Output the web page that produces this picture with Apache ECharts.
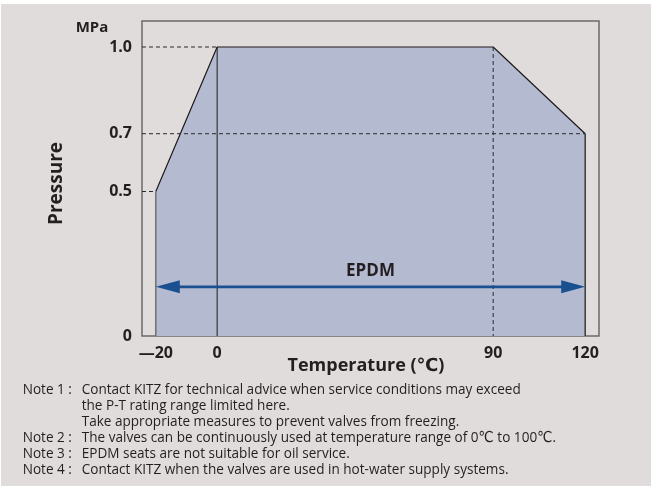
<!DOCTYPE html>
<html>
<head>
<meta charset="utf-8">
<script src="https://cdn.jsdelivr.net/npm/echarts@6/dist/echarts.min.js"></script>
<style>
  html, body { margin: 0; padding: 0; background: #ffffff; }
  #chart { width: 651px; height: 486px; }
</style>
</head>
<body>
<div id="chart"></div>
<script>
// P-T rating envelope for EPDM seats
const temperature = [-20, 0, 90, 120];      // ℃
const pressure = [0.5, 1.0, 1.0, 0.7];      // MPa
const xTickValues = [-20, 0, 90, 120];
const yTickValues = [0, 0.5, 0.7, 1.0];
const epdmRange = [-20, 120];               // ℃ span of the EPDM arrow
const epdmLevel = 0.17;                     // MPa height of the arrow
const notes = [
  ['Note 1 :', 'Contact KITZ for technical advice when service conditions may exceed'],
  ['', 'the P-T rating range limited here.'],
  ['', 'Take appropriate measures to prevent valves from freezing.'],
  ['Note 2 :', 'The valves can be continuously used at temperature range of 0\u2103 to 100\u2103.'],
  ['Note 3 :', 'EPDM seats are not suitable for oil service.'],
  ['Note 4 :', 'Contact KITZ when the valves are used in hot-water supply systems.']
];

const X_MIN = -24.5, X_MAX = 124.5, Y_MIN = 0, Y_MAX = 1.09;
const INK = '#231f20';
const BOLD = '"Open Sans", "DejaVu Sans", sans-serif';
const NOTE_FONT = '"Open Sans", "DejaVu Sans", sans-serif';

const envelope = temperature.map((t, i) => [t, pressure[i]]);
const first = envelope[0], last = envelope[envelope.length - 1];
const peak = envelope[1];

// horizontal scale for the condensed note text
const ctx = document.createElement('canvas').getContext('2d');
ctx.font = '15px ' + NOTE_FONT;
const noteScale = 439 / ctx.measureText(notes[0][1]).width;

function noteText(x, y, text) {
  return {
    type: 'text', x: x, y: y, scaleX: noteScale, silent: true,
    style: { text: text, fontFamily: NOTE_FONT, fontSize: 15, fill: INK, textAlign: 'left', textVerticalAlign: 'middle' }
  };
}
const noteGraphics = [];
notes.forEach((n, i) => {
  const y = 390 + i * 16;
  if (n[0]) noteGraphics.push(noteText(22.7, y, n[0]));
  noteGraphics.push(noteText(81.7, y, n[1]));
});

const dashed = { color: '#2a2a2a', width: 1, type: [4, 3] };
function segment(points, lineStyle, z) {
  return { type: 'line', data: points, showSymbol: false, silent: true, z: z || 3,
           lineStyle: lineStyle, animation: false };
}

const chart = echarts.init(document.getElementById('chart'), null, { renderer: 'canvas' });
chart.setOption({
  animation: false,
  backgroundColor: 'transparent',
  graphic: [
    { type: 'rect', shape: { x: 1, y: 4, width: 650, height: 482 }, style: { fill: '#dfdcdb' }, z: -10, silent: true },
    { type: 'text', x: 92, y: 28, silent: true,
      style: { text: 'MPa', fontFamily: BOLD, fontWeight: 'bold', fontSize: 15, fill: INK,
               textAlign: 'center', textVerticalAlign: 'middle' } }
  ].concat(noteGraphics),
  grid: { left: 142, top: 21, right: 52, bottom: 150, show: true, borderColor: '#6a6a6a', borderWidth: 1.5,
          backgroundColor: 'transparent' },
  xAxis: {
    type: 'value', min: X_MIN, max: X_MAX,
    name: 'Temperature (\u2103)', nameLocation: 'middle', nameGap: 21, nameMoveOverlap: false,
    nameTextStyle: { fontFamily: BOLD, fontWeight: 'bold', fontSize: 18, color: INK, padding: [0, 9, 0, 0] },
    axisLine: { show: false }, splitLine: { show: false },
    axisTick: { show: false },
    axisLabel: {
      customValues: xTickValues, margin: 9,
      fontFamily: BOLD, fontWeight: 'bold', fontSize: 16, color: INK,
      formatter: v => (v < 0 ? '\u2014' + Math.abs(v) : String(v))
    }
  },
  yAxis: {
    type: 'value', min: Y_MIN, max: Y_MAX,
    name: 'Pressure', nameLocation: 'middle', nameGap: 76, nameRotate: 90, nameMoveOverlap: false,
    nameTextStyle: { fontFamily: BOLD, fontWeight: 'bold', fontSize: 19, color: INK, padding: [0, 10, 0, 0] },
    axisLine: { show: false }, splitLine: { show: false },
    axisTick: { show: false },
    axisLabel: {
      customValues: yTickValues, margin: 10,
      fontFamily: BOLD, fontWeight: 'bold', fontSize: 16, color: INK,
      formatter: v => (v === 0 ? '0' : v.toFixed(1))
    }
  },
  series: [
    // shaded rating envelope with its upper boundary
    { type: 'line', data: envelope, showSymbol: false, silent: true, z: 2,
      lineStyle: { color: '#1e1a1b', width: 1.2 },
      areaStyle: { color: '#b4bbd1', opacity: 1, origin: 'start' } },
    // vertical edges of the envelope
    segment([[first[0], Y_MIN], first], { color: '#6f6f6f', width: 1.5 }),
    segment([[peak[0], Y_MIN], peak], { color: '#1e1a1b', width: 1 }),
    segment([[last[0], Y_MIN], last], { color: '#3a3a3a', width: 1.5 }),
    // dashed guide lines
    segment([[X_MIN, pressure[1]], peak], dashed),
    segment([[X_MIN, last[1]], last], dashed),
    segment([[X_MIN, first[1]], first], dashed),
    segment([envelope[2], [temperature[2], Y_MIN]], dashed),
    // EPDM double-headed arrow
    {
      type: 'custom', silent: true, z: 5,
      data: [[epdmRange[0], epdmRange[1], epdmLevel]],
      encode: { x: [0, 1], y: 2 },
      renderItem: function (params, api) {
        const a = api.coord([api.value(0), api.value(2)]);
        const b = api.coord([api.value(1), api.value(2)]);
        const head = 24, half = 6.5, color = '#1b5090';
        return {
          type: 'group',
          children: [
            { type: 'line', shape: { x1: a[0] + head - 2, y1: a[1], x2: b[0] - head + 2, y2: b[1] },
              style: { stroke: color, lineWidth: 2.6 } },
            { type: 'polygon', shape: { points: [[a[0], a[1]], [a[0] + head, a[1] - half], [a[0] + head, a[1] + half]] },
              style: { fill: color } },
            { type: 'polygon', shape: { points: [[b[0], b[1]], [b[0] - head, b[1] - half], [b[0] - head, b[1] + half]] },
              style: { fill: color } },
            { type: 'text', x: (a[0] + b[0]) / 2, y: a[1] - 16,
              style: { text: 'EPDM', fontFamily: BOLD, fontWeight: 'bold', fontSize: 17, fill: INK,
                       textAlign: 'center', textVerticalAlign: 'middle' } }
          ]
        };
      }
    }
  ]
});
</script>
</body>
</html>
